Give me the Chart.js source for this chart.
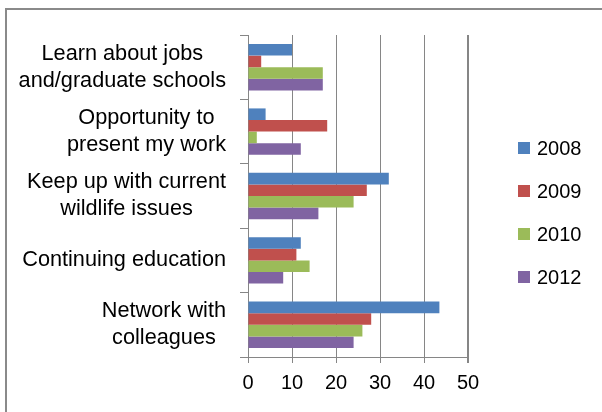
<!DOCTYPE html>
<html>
<head>
<meta charset="utf-8">
<script src="https://cdn.jsdelivr.net/npm/chart.js@4.4.0/dist/chart.umd.min.js"></script>
<style>
body { margin: 0; background: #fff; overflow: hidden; }
#moldura { position: absolute; left: 5px; top: 8px; width: 700px; height: 500px; border: 2px solid #8a8a8a; }
#area { position: absolute; left: 0; top: 0; width: 602px; height: 412px; }
</style>
</head>
<body>
<div id="moldura"></div>
<div id="area"><canvas id="grafico"></canvas></div>
<script>
// dados
const categorias = [
  ["Learn about jobs", "and/graduate schools"],
  ["Opportunity to", "present my work"],
  ["Keep up with current", "wildlife issues"],
  ["Continuing education"],
  ["Network with", "colleagues"]
];
const anos = ["2008", "2009", "2010", "2012"];
const v2008 = [10, 4, 32, 12, 43.5];
const v2009 = [3, 18, 27, 11, 28];
const v2010 = [17, 2, 24, 14, 26];
const v2012 = [17, 12, 16, 8, 24];
const ticksX = [0, 10, 20, 30, 40, 50];

const cores = ["#4F81BD", "#C0504D", "#9BBB59", "#8064A2"];
const fonte = "'Liberation Sans', Arial, sans-serif";
const cinza = "#868686";

// rotulos do eixo y: cada bloco centralizado, alinhado a direita
const rotulosY = {
  id: 'rotulosY',
  afterDraw(chart) {
    const ctx = chart.ctx;
    const y = chart.scales.y;
    ctx.save();
    ctx.font = "21.7px " + fonte;
    ctx.fillStyle = "#000";
    ctx.textAlign = "center";
    ctx.textBaseline = "middle";
    const direita = y.right - 22;
    categorias.forEach((linhas, i) => {
      const yc = y.getPixelForValue(i);
      const larg = Math.max(...linhas.map(l => ctx.measureText(l).width));
      linhas.forEach((l, j) => {
        ctx.fillText(l, direita - larg / 2, yc + (j - (linhas.length - 1) / 2) * 27);
      });
    });
    ctx.restore();
  }
};

// legenda desenhada a direita
const legenda = {
  id: 'legenda',
  afterDraw(chart) {
    const ctx = chart.ctx;
    ctx.save();
    ctx.font = "20px " + fonte;
    ctx.textBaseline = "middle";
    ctx.textAlign = "left";
    chart.data.datasets.forEach((ds, i) => {
      const yc = 148 + i * 43;
      ctx.fillStyle = ds.backgroundColor;
      ctx.fillRect(518, yc - 6, 12, 12);
      ctx.fillStyle = "#000";
      ctx.fillText(ds.label, 537, yc + 1);
    });
    ctx.restore();
  }
};

const series = [v2008, v2009, v2010, v2012];

new Chart(document.getElementById("grafico"), {
  type: 'bar',
  data: {
    labels: categorias,
    datasets: anos.map((a, i) => ({
      label: a,
      data: series[i],
      backgroundColor: cores[i],
      borderWidth: 0,
      categoryPercentage: 0.72,
      barPercentage: 1
    }))
  },
  options: {
    indexAxis: 'y',
    responsive: true,
    maintainAspectRatio: false,
    animation: false,
    devicePixelRatio: 1,
    layout: { padding: { top: 35, right: 134, bottom: 0, left: 0 } },
    plugins: { legend: { display: false }, tooltip: { enabled: false } },
    scales: {
      x: {
        min: ticksX[0],
        max: ticksX[ticksX.length - 1],
        afterBuildTicks: s => { s.ticks = ticksX.map(v => ({ value: v })); },
        afterFit: s => { s.height = 55; },
        ticks: { color: "#000", font: { size: 20, family: fonte }, padding: 8 },
        grid: {
          color: cinza,
          lineWidth: c => c.tick && c.tick.value === 50 ? 2 : 1,
          tickLength: 6
        },
        border: { display: true, color: cinza, width: 1 }
      },
      y: {
        afterFit: s => { s.width = 248; },
        ticks: { display: false },
        grid: { drawOnChartArea: false, color: cinza, tickLength: 8, offset: true },
        border: { display: true, color: cinza, width: 1 }
      }
    }
  },
  plugins: [rotulosY, legenda]
});
</script>
</body>
</html>
